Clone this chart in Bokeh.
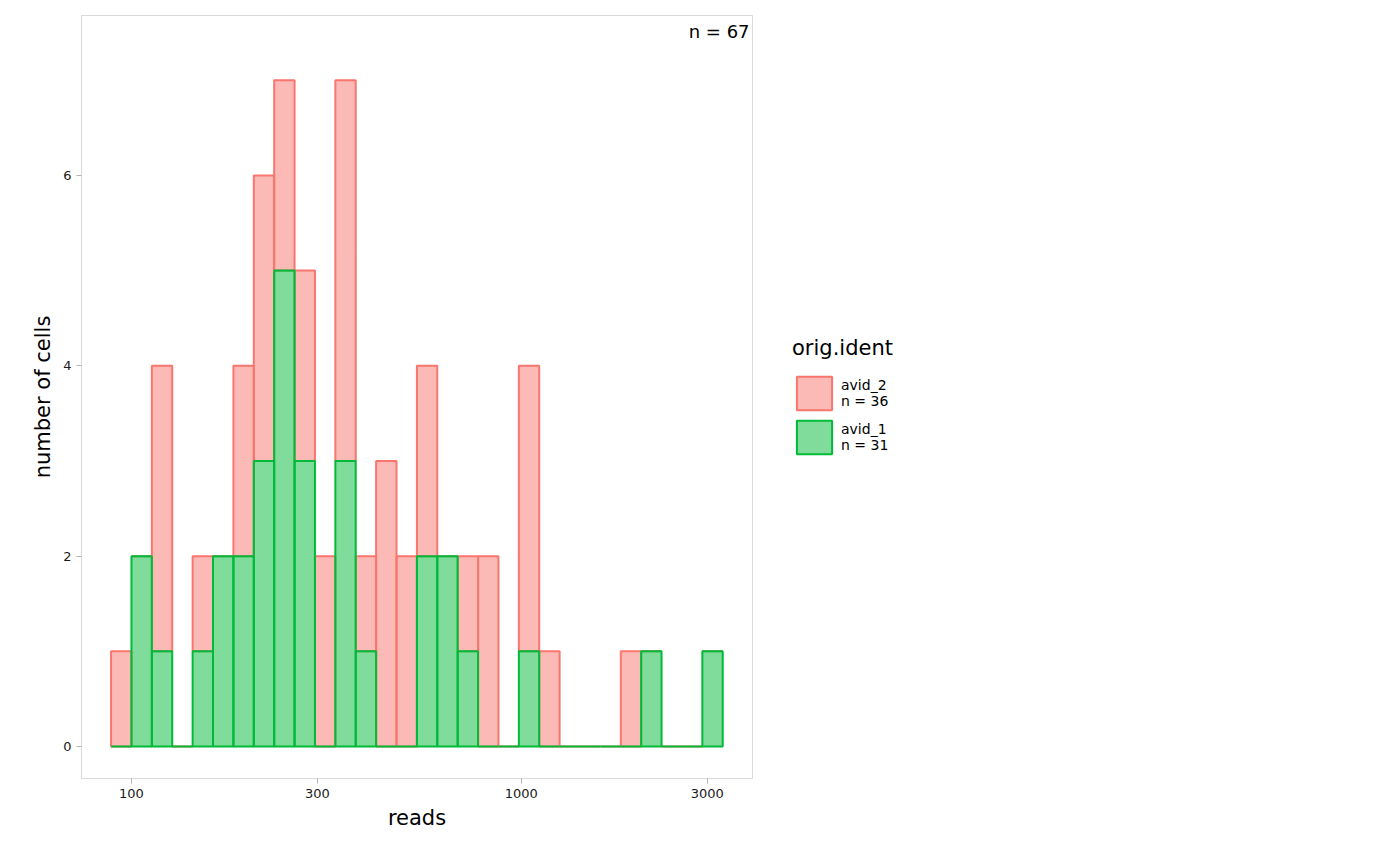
import numpy as np
from bokeh.plotting import figure
from bokeh.models import FixedTicker, Label, Legend, LegendItem
from bokeh.embed import file_html
from bokeh.resources import INLINE

log_start = 1.948
log_width = 0.05229
avid_1 = [0,2,1,0,1,2,2,3,5,3,0,3,1,0,0,2,2,1,0,0,1,0,0,0,0,0,1,0,0,1]
avid_2 = [1,0,3,0,1,0,2,3,2,2,2,4,1,3,2,2,0,1,2,0,3,1,0,0,0,1,0,0,0,0]
ticks = [100, 300, 1000, 3000]

nb = len(avid_1)
edges = 10 ** (log_start + log_width * np.arange(nb + 1))
left, right = edges[:-1], edges[1:]
g = np.array(avid_1, float)
r = np.array(avid_2, float)

p = figure(width=1384, height=850, x_axis_type="log", x_range=(74.5, 3918), y_range=(-0.336, 7.68),
           output_backend="svg", toolbar_location=None, min_border_left=81, min_border_right=212,
           min_border_top=15, min_border_bottom=72)
p.background_fill_color = "white"
p.outline_line_color = "#d9d9d9"
p.grid.visible = False
red = p.quad(left=left, right=right, bottom=g, top=g + r, fill_color="#F8766D", fill_alpha=0.5,
             line_color="#F8766D", line_width=2)
green = p.quad(left=left, right=right, bottom=0, top=g, fill_color="#00BA38", fill_alpha=0.5,
               line_color="#00BA38", line_width=2)

p.xaxis.ticker = FixedTicker(ticks=ticks)
p.xaxis.major_label_overrides = {t: str(t) for t in ticks}
p.yaxis.ticker = FixedTicker(ticks=[0, 2, 4, 6])
for ax in (p.xaxis, p.yaxis):
    ax.axis_line_color = None
    ax.major_tick_line_color = "#b3b3b3"
    ax.minor_tick_line_color = None
    ax.major_tick_out = 5
    ax.major_tick_in = 0
    ax.major_label_text_font_size = "13px"
    ax.major_label_text_color = "#1a1a1a"
    ax.major_label_text_font = "DejaVu Sans"
    ax.axis_label_text_font_size = "21px"
    ax.axis_label_text_font_style = "normal"
    ax.axis_label_text_font = "DejaVu Sans"
    ax.axis_label_text_color = "black"
p.xaxis.axis_label = "reads"
p.yaxis.axis_label = "number of cells"

p.add_layout(Label(x=3850, y=7.62, text="n = 67", text_align="right", text_baseline="top",
                   text_font_size="18px", text_font="DejaVu Sans", text_color="black"))

leg = Legend(items=[LegendItem(label="avid_2\nn = 36", renderers=[red]),
                    LegendItem(label="avid_1\nn = 31", renderers=[green])],
             location="center_left", title="orig.ident", title_text_font_size="21px",
             title_text_font="DejaVu Sans", title_text_font_style="normal", title_text_color="black",
             label_text_font="DejaVu Sans", label_text_font_size="14px", label_text_color="black",
             glyph_width=44, glyph_height=42, label_height=42, spacing=2, padding=4, margin=40,
             border_line_color=None, background_fill_alpha=0, title_standoff=12)
p.add_layout(leg, "right")

open("out.html", "w").write(file_html(p, INLINE))
